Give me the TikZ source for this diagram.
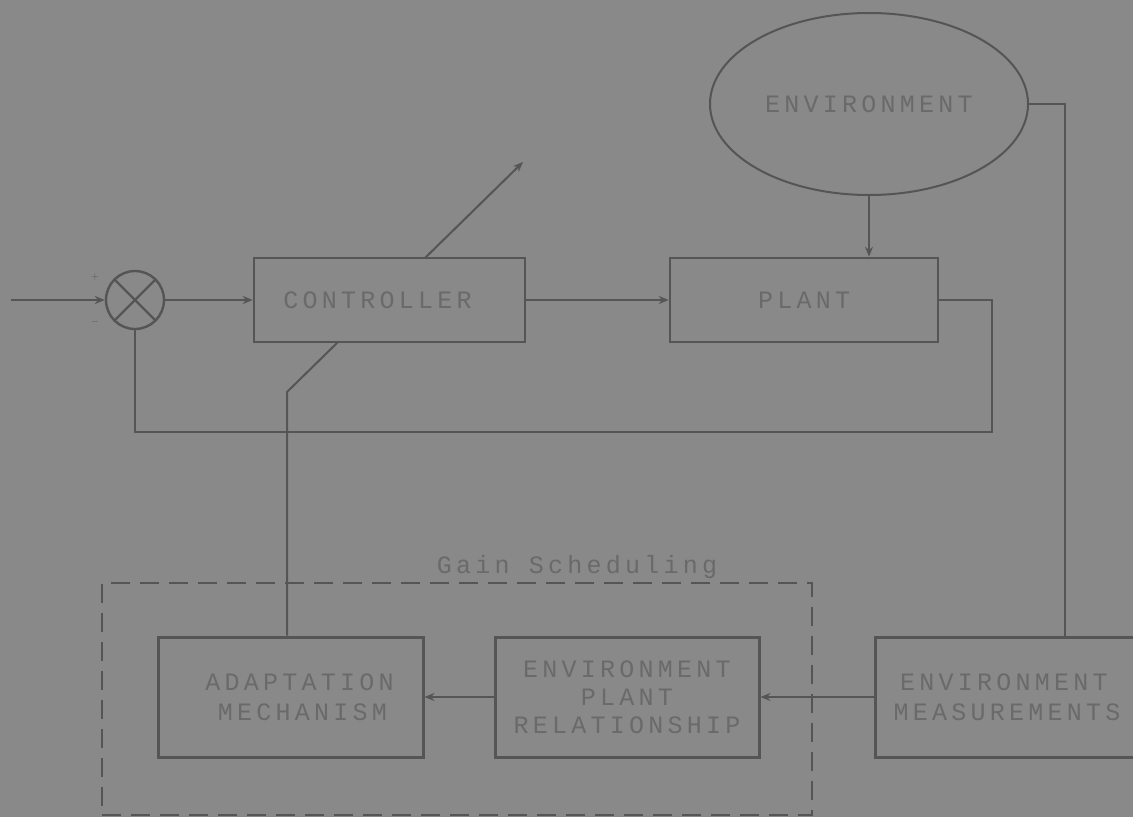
\documentclass[tikz,border=0pt]{standalone}
\usepackage{fontspec}
\usetikzlibrary{shapes.geometric,arrows.meta,calc}
\newfontfamily\tw[LetterSpace=17]{Liberation Mono}
\definecolor{paper}{HTML}{898989}
\definecolor{ink}{HTML}{555555}
\definecolor{typeink}{HTML}{6A6A6A}
\begin{document}
\begin{tikzpicture}[x=1pt,y=-1pt,
  line width=2pt, draw=ink,
  typed/.style={text=typeink, font=\tw\fontsize{25}{30}\selectfont},
  blk/.style={draw=ink, line width=2.6pt, rectangle, minimum width=#1, minimum height=84pt, inner sep=0pt,
              typed, align=center},
  bigblk/.style={blk=#1, minimum height=120pt, line width=3pt},
  conn/.style={draw=ink, line width=2pt},
  arr/.style={conn, -{Stealth[length=10pt,width=8pt]}},
  gsbox/.style={draw=ink, line width=2pt, dash pattern=on 19pt off 10pt},
  sign/.style={text=ink, font=\fontsize{10}{10}\selectfont, inner sep=0pt}]

% background and frame
\fill[paper] (0,0) rectangle (1133,817);
\useasboundingbox (0,0) rectangle (1133,817);

% gain scheduling frame
\node[gsbox, minimum width=710pt, minimum height=232pt, inner sep=0pt] (gs) at (457,699) {};
\node[typed, inner sep=0pt] (gslabel) at (577,567) {Gain Scheduling};

% blocks
\node[circle, draw=ink, line width=2.4pt, minimum size=58pt, inner sep=0pt] (sum) at (135,300) {};
\draw[ink, line width=2.2pt] (sum.north west) -- (sum.south east) (sum.north east) -- (sum.south west);
\node[sign] (plus) at (95,277) {+};
\node[sign] (minus) at (95,322) {$-$};

\node[blk=271pt] (ctrl) at (389.5,300) {CONTROLLER\hspace*{24pt}};
\node[blk=268pt] (plant) at (804,300) {PLANT};
\node[ellipse, draw=ink, line width=2pt, minimum width=318pt, minimum height=182pt, inner sep=0pt,
      typed] (env) at (869,104) {ENVIRONMENT};

\node[bigblk=265pt] (adapt) at (290.5,697) {\hspace*{18pt}ADAPTATION\\\hspace*{24pt}MECHANISM};
\node[bigblk=264pt] (epr) at (627,697) {ENVIRONMENT\\[-2pt]PLANT\\[-2pt]RELATIONSHIP};
\node[bigblk=264pt] (meas) at (1007,697) {ENVIRONMENT\hspace*{6pt}\\MEASUREMENTS};

% free ends and bends
\coordinate (in) at (11,300);
\coordinate (fb) at (992,432);
\coordinate (envout) at (1065,104);
\coordinate (knee) at (287,392);
\coordinate (gin) at (338,342);
\coordinate (gout) at (425,258);
\coordinate (tip) at (523,162);

% main loop
\draw[arr] (in) -- (sum.west);
\draw[arr] (sum.east) -- (ctrl.west);
\draw[arr] (ctrl.east) -- (plant.west);
\draw[arr] (env.south) -- (env.south |- plant.north);
\draw[conn] (plant.east) -| (fb) -| (sum.south);

% environment measurement path
\draw[conn] (env.east) -- (envout) -- (envout |- meas.north);
\draw[arr] (meas.west) -- (epr.east);
\draw[arr] (epr.west) -- (adapt.east);

% gain adjustment of the controller
\draw[conn] (adapt.north -| knee) -- (knee) -- (gin);
\draw[arr] (gout) -- (tip);
\end{tikzpicture}
\end{document}
